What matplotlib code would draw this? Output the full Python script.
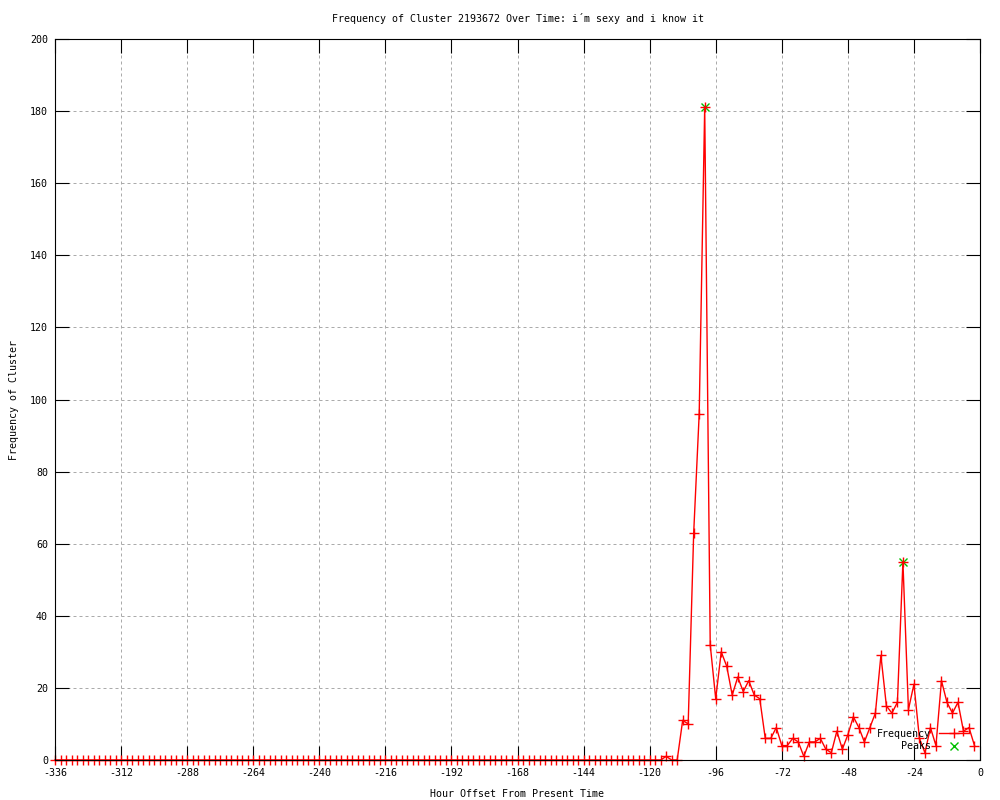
import matplotlib
matplotlib.use('Agg')
import matplotlib.pyplot as plt

plt.rcParams['font.family'] = ['DejaVu Sans Mono', 'DejaVu Sans']

title = "Frequency of Cluster 2193672 Over Time: i\u00b4m sexy and i know it"
x_label = "Hour Offset From Present Time"
y_label = "Frequency of Cluster"

# hours -336 .. -2, every 2 hours
hours = list(range(-336, 0, 2))
frequency = [
    0, 0, 0, 0, 0, 0, 0, 0, 0, 0, 0, 0,
    0, 0, 0, 0, 0, 0, 0, 0, 0, 0, 0, 0,
    0, 0, 0, 0, 0, 0, 0, 0, 0, 0, 0, 0,
    0, 0, 0, 0, 0, 0, 0, 0, 0, 0, 0, 0,
    0, 0, 0, 0, 0, 0, 0, 0, 0, 0, 0, 0,
    0, 0, 0, 0, 0, 0, 0, 0, 0, 0, 0, 0,
    0, 0, 0, 0, 0, 0, 0, 0, 0, 0, 0, 0,
    0, 0, 0, 0, 0, 0, 0, 0, 0, 0, 0, 0,
    0, 0, 0, 0, 0, 0, 0, 0, 0, 0, 0,
    0, 0, 0, 0, 1, 0, 0, 11, 10, 63, 96, 181,
    32, 17, 30, 26, 18, 23, 19, 22, 18, 17, 6, 6,
    9, 4, 4, 6, 5, 1, 5, 5, 6, 3, 2, 8,
    3, 7, 12, 9, 5, 9, 13, 29, 15, 13, 16, 55,
    14, 21, 6, 2, 9, 4, 22, 16, 13, 16, 8, 9,
    4,
]

peak_hours = [-100, -28]
peak_values = [181, 55]

x_ticks = list(range(-336, 1, 24))
y_ticks = list(range(0, 201, 20))

fig = plt.figure(figsize=(10, 8), dpi=100)
ax = fig.add_axes([0.055, 0.05, 0.925, 0.90125])

ax.plot(peak_hours, peak_values, ls='none', marker='x', color='#00c000',
        ms=6, mew=1.0, label='Peaks', zorder=1.9, clip_on=False)
ax.plot(hours, frequency, color='red', lw=1.0, marker='+', ms=6.5, mew=1.0,
        label='Frequency', zorder=2, clip_on=False)

ax.set_xlim(-336, 0)
ax.set_ylim(0, 200)
ax.set_xticks(x_ticks)
ax.set_yticks(y_ticks)
ax.set_xticklabels([str(v) for v in x_ticks])
ax.set_yticklabels([str(v) for v in y_ticks])

ax.grid(True, color='#ababab', linestyle=(0, (3, 3)), lw=0.72)
ax.set_axisbelow(True)
for s in ax.spines.values():
    s.set_linewidth(0.8)
    s.set_color('black')
ax.tick_params(direction='in', length=10, width=0.8, top=True, right=True,
               labelsize=7.2, colors='black')
ax.tick_params(axis='y', pad=5)
ax.tick_params(axis='x', pad=5.5)

ax.set_title(title, fontsize=7.2, pad=12.5)
ax.set_xlabel(x_label, fontsize=7.2, labelpad=8)
ax.set_ylabel(y_label, fontsize=7.2, labelpad=8)

handles, labels = ax.get_legend_handles_labels()
leg = ax.legend(handles[::-1], labels[::-1], loc='lower right',
                bbox_to_anchor=(0.988, 0.012), frameon=False, markerfirst=False,
                fontsize=7.2, handlelength=3.0, handletextpad=0.8,
                labelspacing=0.25, borderpad=0, borderaxespad=0)

fig.savefig('out.png', dpi=100)
